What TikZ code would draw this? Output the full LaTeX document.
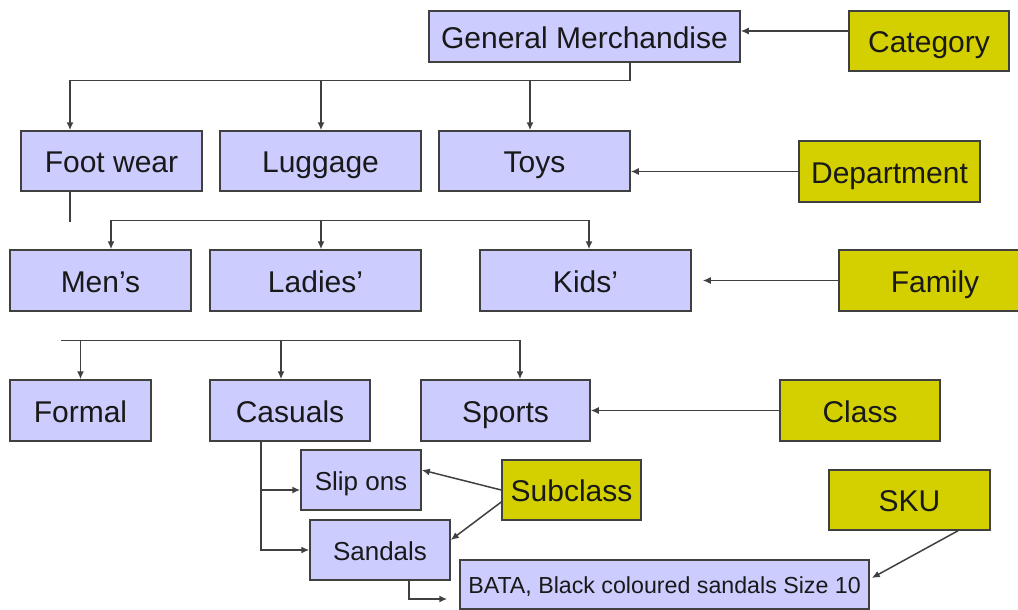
\documentclass[tikz,border=0pt]{standalone}
\usepackage{fontspec}
\setmainfont{Liberation Sans}
\usetikzlibrary{arrows.meta}
\definecolor{lav}{RGB}{204,204,255}
\definecolor{olive}{RGB}{212,208,0}
\definecolor{edge}{RGB}{64,64,64}
\tikzset{
  box/.style={draw=edge, line width=1.5pt, inner sep=0pt, anchor=center,
    text height=23.4pt, text depth=0pt,
    font=\fontsize{30}{35}\selectfont, text=black!90},
  midtext/.style={text height=20.2pt, font=\fontsize{26}{30}\selectfont},
  smalltext/.style={text height=18pt, font=\fontsize{23.2}{27}\selectfont},
  lbox/.style={box, fill=lav},
  ybox/.style={box, fill=olive},
  ln/.style={draw=edge, line width=1.5pt},
  arr/.style={ln, -{Latex[length=8pt,width=7pt]}},
}
\begin{document}
\begin{tikzpicture}[x=1pt,y=-1pt]
\useasboundingbox (0,0) rectangle (1018,610);
% boxes
\node[lbox, minimum width=311pt, minimum height=51pt] (gm) at (584.5,36.5) {General Merchandise};
\node[ybox, minimum width=160pt, minimum height=60pt] (cat) at (929,41) {Category};
\node[lbox, minimum width=181pt, minimum height=60pt] (foot) at (111.5,161) {Foot wear};
\node[lbox, minimum width=201pt, minimum height=60pt] (lug) at (320.5,161) {Luggage};
\node[lbox, minimum width=191pt, minimum height=60pt] (toys) at (534.5,161) {Toys};
\node[ybox, minimum width=181pt, minimum height=61pt] (dept) at (889.5,171.5) {Department};
\node[lbox, minimum width=181pt, minimum height=61pt] (mens) at (100.5,280.5) {Men’s};
\node[lbox, minimum width=211pt, minimum height=61pt] (ladies) at (315.5,280.5) {Ladies’};
\node[lbox, minimum width=211pt, minimum height=61pt] (kids) at (585.5,280.5) {Kids’};
\node[ybox, minimum width=192pt, minimum height=61pt] (family) at (935,280.5) {Family};
\node[lbox, minimum width=141pt, minimum height=61pt] (formal) at (80.5,410.5) {Formal};
\node[lbox, minimum width=160pt, minimum height=61pt] (casuals) at (290,410.5) {Casuals};
\node[lbox, minimum width=169pt, minimum height=61pt] (sports) at (505.5,410.5) {Sports};
\node[ybox, minimum width=160pt, minimum height=61pt] (class) at (860,410.5) {Class};
\node[lbox, midtext, minimum width=120pt, minimum height=60pt] (slip) at (361,480) {Slip ons};
\node[lbox, midtext, minimum width=140pt, minimum height=60pt] (sandals) at (380,550) {Sandals};
\node[ybox, minimum width=139pt, minimum height=60pt] (subclass) at (571.5,490) {Subclass};
\node[lbox, smalltext, minimum width=409pt, minimum height=49pt] (bata) at (664.5,584.5) {BATA, Black coloured sandals Size 10};
\node[ybox, minimum width=161pt, minimum height=60pt] (sku) at (909.5,500) {SKU};
% category level
\draw[arr] ([yshift=10pt]cat.west) -- ([yshift=5.5pt]gm.east);
\coordinate (j1) at ([xshift=45.5pt,yshift=-18pt]gm.south);
\draw[ln] ([xshift=45.5pt]gm.south) -- (j1);
\draw[arr] (j1) -| ([xshift=-41.5pt]foot.north);
\draw[arr] (j1) -| ([xshift=0.5pt]lug.north);
\draw[arr] (j1) -| ([xshift=-4.5pt]toys.north);
% department level
\draw[arr] (dept.west) -- (dept.west -| toys.east);
\draw[ln] ([xshift=-41.5pt]foot.south) -- ++(0,30);
\coordinate (j2) at ([xshift=3.5pt,yshift=29pt]kids.north);
\draw[arr] (j2) -| ([xshift=10.5pt]mens.north);
\draw[arr] (j2) -| ([xshift=5.5pt]ladies.north);
\draw[arr] (j2) -- ([xshift=3.5pt]kids.north);
% family level
\draw[arr] (family.west) -- ([xshift=11pt]kids.east);
\coordinate (j3) at ([xshift=14.5pt,yshift=39pt]sports.north);
\draw[ln] (j3) -- ++(-459,0);
\draw[arr] (j3) -| (formal.north);
\draw[arr] (j3) -| ([xshift=-9pt]casuals.north);
\draw[arr] (j3) -- ([xshift=14.5pt]sports.north);
% class level
\draw[arr] (class.west) -- (sports.east);
\draw[arr] ([xshift=-29pt]casuals.south) |- ([yshift=-10pt]slip.west);
\draw[arr] ([xshift=-29pt]casuals.south) |- (sandals.west);
% subclass
\draw[arr] (subclass.west) -- ([yshift=10pt]slip.east);
\draw[arr] ([yshift=-12pt]subclass.west) -- ([yshift=10pt]sandals.east);
% sku
\draw[arr] ([xshift=29pt]sandals.south) |- ([xshift=-12pt,yshift=-14.5pt]bata.west);
\draw[arr] ([xshift=48.5pt]sku.south) -- ([xshift=2pt,yshift=6.5pt]bata.east);
\end{tikzpicture}
\end{document}
